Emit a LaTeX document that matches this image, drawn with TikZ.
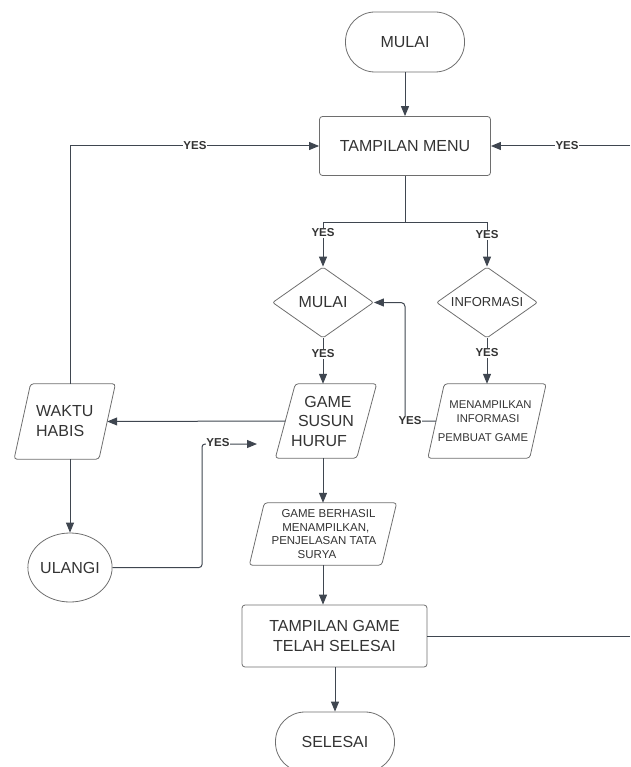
\documentclass[tikz,border=0pt]{standalone}
\usepackage{fontspec}
\setmainfont{Liberation Sans}
\usetikzlibrary{shapes.geometric,arrows.meta,calc}

\definecolor{linec}{HTML}{3F4650}
\definecolor{boxc}{HTML}{6E6E6E}
\definecolor{txtc}{HTML}{333333}

\newcommand\drawpara[2]{%
  \draw[draw=boxc, line width=0.8pt, rounded corners=3pt]
    ($(#1.north west)+(#2,0)$) -- ($(#1.north east)+(#2,0)$) --
    ($(#1.south east)-(#2,0)$) -- ($(#1.south west)-(#2,0)$) -- cycle;}

\begin{document}
\begin{tikzpicture}[x=1pt,y=-1pt,
  every node/.style={text=txtc, font=\fontsize{16}{20}\selectfont},
  base/.style={draw=boxc, line width=0.8pt, inner sep=0pt},
  term/.style={base, rectangle, rounded corners=29.5pt, minimum width=119pt, minimum height=60pt},
  proc/.style={base, rectangle, rounded corners=3pt},
  dec/.style={base, diamond, aspect=2, rounded corners=2pt, minimum width=101pt, minimum height=71pt},
  io/.style={rectangle, inner sep=0pt},
  conn/.style={draw=linec, line width=1pt, -{Triangle[length=10pt,width=8pt]}},
  plain/.style={draw=linec, line width=1pt},
  yes/.style={fill=white, font=\bfseries\fontsize{11.5}{12}\selectfont, inner sep=0.8pt, text=txtc}
]
\useasboundingbox (0,0) rectangle (630,767);
\clip (0,0) rectangle (630,767);

% nodes
\node[term] (start) at (405,42) {MULAI};
\node[proc, minimum width=171pt, minimum height=59pt] (menu) at (405,146) {TAMPILAN MENU};
\node[dec] (dm) at (323,302.5) {MULAI};
\node[dec, font=\fontsize{13}{15}\selectfont] (di) at (487,302.5) {INFORMASI};

\node[io, minimum width=81pt, minimum height=74pt, align=center,
      font=\fontsize{16}{19.5}\selectfont] (gs) at (326,421)
  {\hspace*{4pt}GAME\\SUSUN\hspace*{5pt}\\HURUF\hspace*{14pt}};
\drawpara{gs}{10}

\node[io, minimum width=101.5pt, minimum height=74pt, align=center,
      font=\fontsize{11.3}{14}\selectfont] (mi) at (487,421)
  {\hspace*{7pt}MENAMPILKAN\\\hspace*{2pt}INFORMASI\\[4.4pt]PEMBUAT GAME\hspace*{8pt}};
\drawpara{mi}{8.25}

\node[io, minimum width=84.5pt, minimum height=75pt, align=left,
      font=\fontsize{16}{20}\selectfont] (wh) at (64.75,421.5)
  {WAKTU\\HABIS};
\drawpara{wh}{8.25}

\node[base, ellipse, minimum width=78pt, minimum height=69pt] (ul) at (70,567.5) {ULANGI};

\node[io, minimum width=132pt, minimum height=62pt, align=center,
      font=\fontsize{11.5}{13.9}\selectfont] (gb) at (323,534)
  {\hspace*{11pt}GAME BERHASIL\\\hspace*{5.6pt}MENAMPILKAN,\\\hspace*{2pt}PENJELASAN TATA\\SURYA\hspace*{12pt}};
\drawpara{gb}{7.5}

\node[proc, minimum width=185pt, minimum height=62pt, align=center] (tg) at (334.5,636)
  {TAMPILAN GAME\\TELAH SELESAI};

\node[term] (sel) at (335,742) {SELESAI};

% coordinates for free ends and bends
\coordinate (rr) at (630,146);
\coordinate (lc) at (70,146);
\coordinate (sp) at (405,222);
\coordinate (mj) at (405,302.5);
\coordinate (ub) at (202,567.5);
\coordinate (ut) at (202,444);
\coordinate (ue) at (257,444);
\coordinate (rb) at (630,636);

% connectors
\draw[conn] (start.south) -- (start.south |- menu.north);
\draw[conn] (rr) -- (menu.east);
\draw[conn] (ul.north |- wh.north) -- (lc) -- (menu.west);
\draw[plain] (menu.south) -- (sp);
\draw[conn] (sp) -| (dm.north);
\draw[conn] (sp) -| (di.north);
\draw[conn] (dm.south) -- (dm.south |- gs.north);
\draw[conn] (di.south) -- (di.south |- mi.north);
\draw[conn, rounded corners=4pt] (mi.west) -| (mj) -- (dm.east);
\draw[conn] (gs.west) -- (wh.east);
\draw[conn] (ul.north |- wh.south) -- (ul.north);
\draw[conn, rounded corners=3pt] (ul.east) -- (ub) -- (ut) -- (ue);
\draw[conn] (gb.north |- gs.south) -- (gb.north);
\draw[conn] (gb.south) -- (gb.south |- tg.north);
\draw[plain] (tg.east) -- (rb);
\draw[conn] (tg.south -| sel.north) -- (sel.north);

% labels
\node[yes] (y1) at (567,146) {YES};
\node[yes] (y2) at (195,146) {YES};
\node[yes] (y3) at (323,233) {YES};
\node[yes] (y4) at (487,235) {YES};
\node[yes] (y5) at (323,354) {YES};
\node[yes] (y6) at (487,353) {YES};
\node[yes] (y7) at (410,421) {YES};
\node[yes] (y8) at (218,443) {YES};
\end{tikzpicture}
\end{document}
